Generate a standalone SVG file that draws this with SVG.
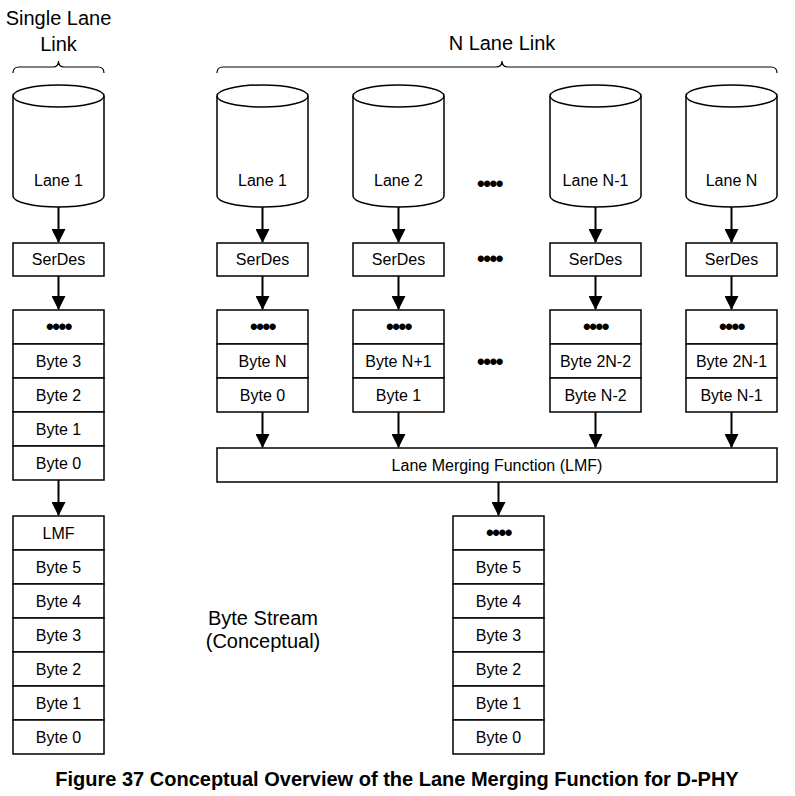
<svg xmlns="http://www.w3.org/2000/svg" width="795" height="796" viewBox="0 0 795 796">
<defs>
<style>
.box{fill:#fff;stroke:#000;stroke-width:1.5}
.cyl{fill:#fff;stroke:#000;stroke-width:1.5}
.lbl{font-family:"Liberation Sans",Arial,sans-serif;font-size:16px;fill:#000;text-anchor:middle}
.big{font-family:"Liberation Sans",Arial,sans-serif;font-size:20px;fill:#000;text-anchor:middle}
.dots{font-family:"Liberation Sans",Arial,sans-serif;font-size:22px;font-weight:bold;fill:#000;text-anchor:middle;letter-spacing:-1.5px}
.brace{fill:none;stroke:#000;stroke-width:1.2}
.arr{stroke:#000;stroke-width:2;fill:none;marker-end:url(#ah)}
.cap{font-family:"Liberation Sans",Arial,sans-serif;font-size:20px;font-weight:bold;fill:#000;text-anchor:middle}
</style>
<marker id="ah" viewBox="0 0 14 14" refX="13" refY="7" markerWidth="14" markerHeight="14" markerUnits="userSpaceOnUse" orient="auto">
<path d="M0,0 L14,7 L0,14 z" fill="#000"/>
</marker>
</defs>

<g id="titles">
<text class="big" x="58.5" y="25">Single Lane</text>
<text class="big" x="58.5" y="51">Link</text>
<text class="big" x="502" y="50">N Lane Link</text>
<path class="brace" d="M13,73 Q13,67 19,67 L53,67 Q58.5,67 58.5,61 Q58.5,67 64,67 L98,67 Q104,67 104,73"/>
<path class="brace" d="M217,73 Q217,67 223,67 L496,67 Q502,67 502,61 Q502,67 508,67 L771,67 Q777,67 777,73"/>
</g>

<g id="cyl-single">
<path class="cyl" d="M13,96 L13,196 A45.5,11 0 0 0 104,196 L104,96"/>
<ellipse class="cyl" cx="58.5" cy="96" rx="45.5" ry="11"/>
<text class="lbl" x="58.5" y="186">Lane 1</text>
</g>
<g id="cyl-1">
<path class="cyl" d="M217,96 L217,196 A45.5,11 0 0 0 308,196 L308,96"/>
<ellipse class="cyl" cx="262.5" cy="96" rx="45.5" ry="11"/>
<text class="lbl" x="262.5" y="186">Lane 1</text>
</g>
<g id="cyl-2">
<path class="cyl" d="M353,96 L353,196 A45.5,11 0 0 0 444,196 L444,96"/>
<ellipse class="cyl" cx="398.5" cy="96" rx="45.5" ry="11"/>
<text class="lbl" x="398.5" y="186">Lane 2</text>
</g>
<g id="cyl-n1">
<path class="cyl" d="M550,96 L550,196 A45.5,11 0 0 0 641,196 L641,96"/>
<ellipse class="cyl" cx="595.5" cy="96" rx="45.5" ry="11"/>
<text class="lbl" x="595.5" y="186">Lane N-1</text>
</g>
<g id="cyl-n">
<path class="cyl" d="M686,96 L686,196 A45.5,11 0 0 0 777,196 L777,96"/>
<ellipse class="cyl" cx="731.5" cy="96" rx="45.5" ry="11"/>
<text class="lbl" x="731.5" y="186">Lane N</text>
</g>

<g id="serdes-single"><rect class="box" x="13" y="243" width="91" height="33"/><text class="lbl" x="58.5" y="265">SerDes</text></g>
<g id="serdes-1"><rect class="box" x="217" y="243" width="91" height="33"/><text class="lbl" x="262.5" y="265">SerDes</text></g>
<g id="serdes-2"><rect class="box" x="353" y="243" width="91" height="33"/><text class="lbl" x="398.5" y="265">SerDes</text></g>
<g id="serdes-n1"><rect class="box" x="550" y="243" width="91" height="33"/><text class="lbl" x="595.5" y="265">SerDes</text></g>
<g id="serdes-n"><rect class="box" x="686" y="243" width="91" height="33"/><text class="lbl" x="731.5" y="265">SerDes</text></g>

<g id="ellipsis">
<text class="dots" x="489.5" y="191">••••</text>
<text class="dots" x="489.5" y="266">••••</text>
<text class="dots" x="489.5" y="369">••••</text>
</g>

<g id="stack-single">
<rect class="box" x="13" y="310" width="91" height="34"/><text class="dots" x="58.5" y="334">••••</text>
<rect class="box" x="13" y="344" width="91" height="34"/><text class="lbl" x="58.5" y="367">Byte 3</text>
<rect class="box" x="13" y="378" width="91" height="34"/><text class="lbl" x="58.5" y="401">Byte 2</text>
<rect class="box" x="13" y="412" width="91" height="34"/><text class="lbl" x="58.5" y="435">Byte 1</text>
<rect class="box" x="13" y="446" width="91" height="34"/><text class="lbl" x="58.5" y="469">Byte 0</text>
</g>
<g id="stack-1">
<rect class="box" x="217" y="310" width="91" height="34"/><text class="dots" x="262.5" y="334">••••</text>
<rect class="box" x="217" y="344" width="91" height="34"/><text class="lbl" x="262.5" y="367">Byte N</text>
<rect class="box" x="217" y="378" width="91" height="34"/><text class="lbl" x="262.5" y="401">Byte 0</text>
</g>
<g id="stack-2">
<rect class="box" x="353" y="310" width="91" height="34"/><text class="dots" x="398.5" y="334">••••</text>
<rect class="box" x="353" y="344" width="91" height="34"/><text class="lbl" x="398.5" y="367">Byte N+1</text>
<rect class="box" x="353" y="378" width="91" height="34"/><text class="lbl" x="398.5" y="401">Byte 1</text>
</g>
<g id="stack-n1">
<rect class="box" x="550" y="310" width="91" height="34"/><text class="dots" x="595.5" y="334">••••</text>
<rect class="box" x="550" y="344" width="91" height="34"/><text class="lbl" x="595.5" y="367">Byte 2N-2</text>
<rect class="box" x="550" y="378" width="91" height="34"/><text class="lbl" x="595.5" y="401">Byte N-2</text>
</g>
<g id="stack-n">
<rect class="box" x="686" y="310" width="91" height="34"/><text class="dots" x="731.5" y="334">••••</text>
<rect class="box" x="686" y="344" width="91" height="34"/><text class="lbl" x="731.5" y="367">Byte 2N-1</text>
<rect class="box" x="686" y="378" width="91" height="34"/><text class="lbl" x="731.5" y="401">Byte N-1</text>
</g>

<g id="lmf">
<rect class="box" x="217" y="448" width="560" height="34"/>
<text class="lbl" x="497" y="471">Lane Merging Function (LMF)</text>
</g>

<g id="out-single">
<rect class="box" x="13" y="516" width="91" height="34"/><text class="lbl" x="58.5" y="539">LMF</text>
<rect class="box" x="13" y="550" width="91" height="34"/><text class="lbl" x="58.5" y="573">Byte 5</text>
<rect class="box" x="13" y="584" width="91" height="34"/><text class="lbl" x="58.5" y="607">Byte 4</text>
<rect class="box" x="13" y="618" width="91" height="34"/><text class="lbl" x="58.5" y="641">Byte 3</text>
<rect class="box" x="13" y="652" width="91" height="34"/><text class="lbl" x="58.5" y="675">Byte 2</text>
<rect class="box" x="13" y="686" width="91" height="34"/><text class="lbl" x="58.5" y="709">Byte 1</text>
<rect class="box" x="13" y="720" width="91" height="34"/><text class="lbl" x="58.5" y="743">Byte 0</text>
</g>
<g id="out-n">
<rect class="box" x="453" y="516" width="91" height="34"/><text class="dots" x="498.5" y="540">••••</text>
<rect class="box" x="453" y="550" width="91" height="34"/><text class="lbl" x="498.5" y="573">Byte 5</text>
<rect class="box" x="453" y="584" width="91" height="34"/><text class="lbl" x="498.5" y="607">Byte 4</text>
<rect class="box" x="453" y="618" width="91" height="34"/><text class="lbl" x="498.5" y="641">Byte 3</text>
<rect class="box" x="453" y="652" width="91" height="34"/><text class="lbl" x="498.5" y="675">Byte 2</text>
<rect class="box" x="453" y="686" width="91" height="34"/><text class="lbl" x="498.5" y="709">Byte 1</text>
<rect class="box" x="453" y="720" width="91" height="34"/><text class="lbl" x="498.5" y="743">Byte 0</text>
</g>

<g id="stream-label">
<text class="big" x="263" y="625">Byte Stream</text>
<text class="big" x="263" y="648">(Conceptual)</text>
</g>

<g id="connectors">
<line class="arr" x1="58.5" y1="207" x2="58.5" y2="242"/>
<line class="arr" x1="58.5" y1="276" x2="58.5" y2="309"/>
<line class="arr" x1="58.5" y1="480" x2="58.5" y2="515"/>
<line class="arr" x1="262.5" y1="207" x2="262.5" y2="242"/>
<line class="arr" x1="262.5" y1="276" x2="262.5" y2="309"/>
<line class="arr" x1="262.5" y1="412" x2="262.5" y2="447"/>
<line class="arr" x1="398.5" y1="207" x2="398.5" y2="242"/>
<line class="arr" x1="398.5" y1="276" x2="398.5" y2="309"/>
<line class="arr" x1="398.5" y1="412" x2="398.5" y2="447"/>
<line class="arr" x1="595.5" y1="207" x2="595.5" y2="242"/>
<line class="arr" x1="595.5" y1="276" x2="595.5" y2="309"/>
<line class="arr" x1="595.5" y1="412" x2="595.5" y2="447"/>
<line class="arr" x1="731.5" y1="207" x2="731.5" y2="242"/>
<line class="arr" x1="731.5" y1="276" x2="731.5" y2="309"/>
<line class="arr" x1="731.5" y1="412" x2="731.5" y2="447"/>
<line class="arr" x1="498.5" y1="482" x2="498.5" y2="515"/>
</g>

<text class="cap" x="397" y="786">Figure 37 Conceptual Overview of the Lane Merging Function for D-PHY</text>
</svg>
